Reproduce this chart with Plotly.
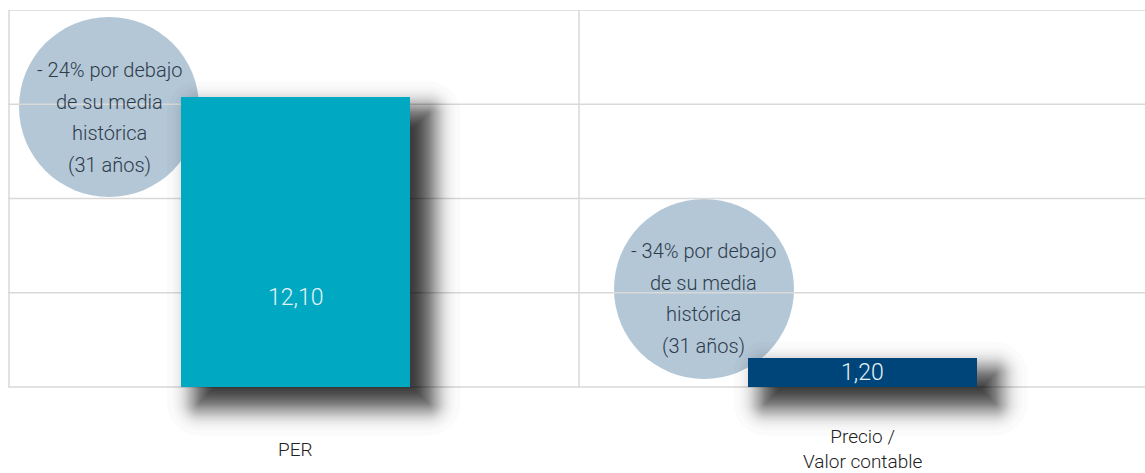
from statistics import NormalDist
import plotly.graph_objects as go

# ---------------- data ----------------
categories = ["PER", "Precio /<br>Valor contable"]
values = [12.10, 1.20]
bar_colors = ["#00A8C2", "#00457A"]
callout_lines = [
    ["- 24% por debajo", "de su media", "histórica", "(31 años)"],
    ["- 34% por debajo", "de su media", "histórica", "(31 años)"],
]

# ---------------- geometry / style ----------------
W, H = 1145, 473
ML, MR, MT, MB = 8, 0, 10, 48
PW, PH = W - ML - MR, H - MT - MB
BASE_PX = 387
YMAX = 15.75
PPU = (BASE_PX - MT) / YMAX               # pixels per y unit
YMIN = -(H - MB - BASE_PX) / PPU
XR = [-0.508, 1.499]
PPX = PW / (XR[1] - XR[0])                # pixels per category unit
BAR_W = 0.404
FONT = "Roboto, Liberation Sans, sans-serif"
GRID = "#d9d9d9"
GRID_VALS = [YMAX * k / 4 for k in range(5)]


def px_x(px):
    return (px - ML) / PW


def px_y(py):
    return (H - MB - py) / PH


def data_px_x(x):
    return ML + (x - XR[0]) * PPX


def data_px_y(y):
    return BASE_PX - y * PPU


def rounded_rect_path(x0, y0, x1, y1, r):
    """Path in paper coords for a pixel box (y0 top, y1 bottom) with corner radius r px."""
    k = 0.5523 * r
    P = lambda x, y: f"{px_x(x):.6f},{px_y(y):.6f}"
    if r <= 0.01:
        return f"M{P(x0,y0)} L{P(x1,y0)} L{P(x1,y1)} L{P(x0,y1)} Z"
    return (
        f"M{P(x0 + r, y0)} L{P(x1 - r, y0)} "
        f"C{P(x1 - r + k, y0)} {P(x1, y0 + r - k)} {P(x1, y0 + r)} "
        f"L{P(x1, y1 - r)} "
        f"C{P(x1, y1 - r + k)} {P(x1 - r + k, y1)} {P(x1 - r, y1)} "
        f"L{P(x0 + r, y1)} "
        f"C{P(x0 + r - k, y1)} {P(x0, y1 - r + k)} {P(x0, y1 - r)} "
        f"L{P(x0, y0 + r)} "
        f"C{P(x0, y0 + r - k)} {P(x0 + r - k, y0)} {P(x0 + r, y0)} Z"
    )


fig = go.Figure()
fig.add_trace(go.Bar(
    x=categories, y=values, marker_color=bar_colors, marker_line_width=0,
    width=BAR_W, hoverinfo="skip", showlegend=False,
))

shapes = []
# 1) callout circles (pixel boxes converted to paper coordinates)
circle_boxes = [(19, 17, 199, 197), (614, 199, 794, 379)]
for (x0, y0, x1, y1) in circle_boxes:
    shapes.append(dict(
        type="circle", xref="paper", yref="paper", layer="below",
        x0=px_x(x0), x1=px_x(x1), y0=px_y(y1), y1=px_y(y0),
        line=dict(width=0), fillcolor="#B3C7D7",
    ))

# 2) grid lines, left border and category divider (drawn over circles)
for gv in GRID_VALS:
    shapes.append(dict(type="line", xref="paper", yref="y", layer="below",
                       x0=0, x1=1, y0=gv, y1=gv,
                       line=dict(color=GRID, width=1.5)))
shapes.append(dict(type="line", xref="x", yref="y", layer="below",
                   x0=XR[0] + 1 / PPX, x1=XR[0] + 1 / PPX, y0=0, y1=YMAX,
                   line=dict(color=GRID, width=1.5)))
shapes.append(dict(type="line", xref="x", yref="y", layer="below",
                   x0=0.5, x1=0.5, y0=0, y1=YMAX,
                   line=dict(color=GRID, width=1.5)))

# 3) soft drop shadows over the grid: Gaussian-like stack of rounded rectangles
SH_DX, SH_DY, SIGMA, NL = 18, 16, 13.0, 80
alpha = 1 - 0.30 ** (1 / NL)
nd = NormalDist()
expansions = [SIGMA * nd.inv_cdf((k + 0.5) / NL) for k in range(NL)]
for i, v in enumerate(values):
    bx0 = data_px_x(i - BAR_W / 2) + SH_DX
    bx1 = data_px_x(i + BAR_W / 2) + SH_DX
    by0 = data_px_y(v) + SH_DY
    by1 = data_px_y(0) + SH_DY
    for e in expansions:
        x0, x1, y0, y1 = bx0 - e, bx1 + e, by0 - e, by1 + e
        if x1 - x0 < 1 or y1 - y0 < 1:
            continue
        shapes.append(dict(
            type="path", xref="paper", yref="paper", layer="below",
            path=rounded_rect_path(x0, y0, x1, y1, max(e, 0)),
            line=dict(width=0), fillcolor=f"rgba(0,0,0,{alpha:.4f})",
        ))

annotations = []
# callout texts (one annotation per line for wider line spacing)
callout_centers = [(109, 117.5), (703, 298.5)]
line_offsets = [-47.5, -15.8, 15.8, 47.5]
for lines, (cx, cy) in zip(callout_lines, callout_centers):
    for txt, off in zip(lines, line_offsets):
        annotations.append(dict(
            text=txt, xref="paper", yref="paper", x=px_x(cx), y=px_y(cy + off),
            xanchor="center", yanchor="middle", showarrow=False, align="center",
            font=dict(family=FONT, size=20, color="#2E3B4A", weight=300),
        ))

# value labels
label_y = [3.72, values[1] / 2]
for i, v in enumerate(values):
    annotations.append(dict(
        text=f"{v:.2f}".replace(".", ","), xref="x", yref="y", x=i, y=label_y[i],
        xanchor="center", yanchor="middle", showarrow=False,
        font=dict(family=FONT, size=23, color="#E4F2F6", weight=300),
    ))

# category labels
for i, c in enumerate(categories):
    annotations.append(dict(
        text=c, xref="x", yref="paper", x=i, y=px_y(449),
        xanchor="center", yanchor="middle", showarrow=False, align="center",
        font=dict(family=FONT, size=19, color="#222222", weight=300),
    ))

fig.update_layout(
    width=W, height=H,
    margin=dict(l=ML, r=MR, t=MT, b=MB, pad=0),
    paper_bgcolor="white", plot_bgcolor="white",
    separators=",.",
    shapes=shapes, annotations=annotations,
    xaxis=dict(range=XR, showgrid=False, zeroline=False, showticklabels=False,
               showline=False, ticks="", fixedrange=True),
    yaxis=dict(range=[YMIN, YMAX], showgrid=False, zeroline=False,
               showticklabels=False, showline=False, ticks="", fixedrange=True),
    bargap=0,
)

fig.write_html(
    "out.html",
    config={"displayModeBar": False},
    post_script="document.body.style.margin='0';document.body.style.overflow='hidden';",
)
